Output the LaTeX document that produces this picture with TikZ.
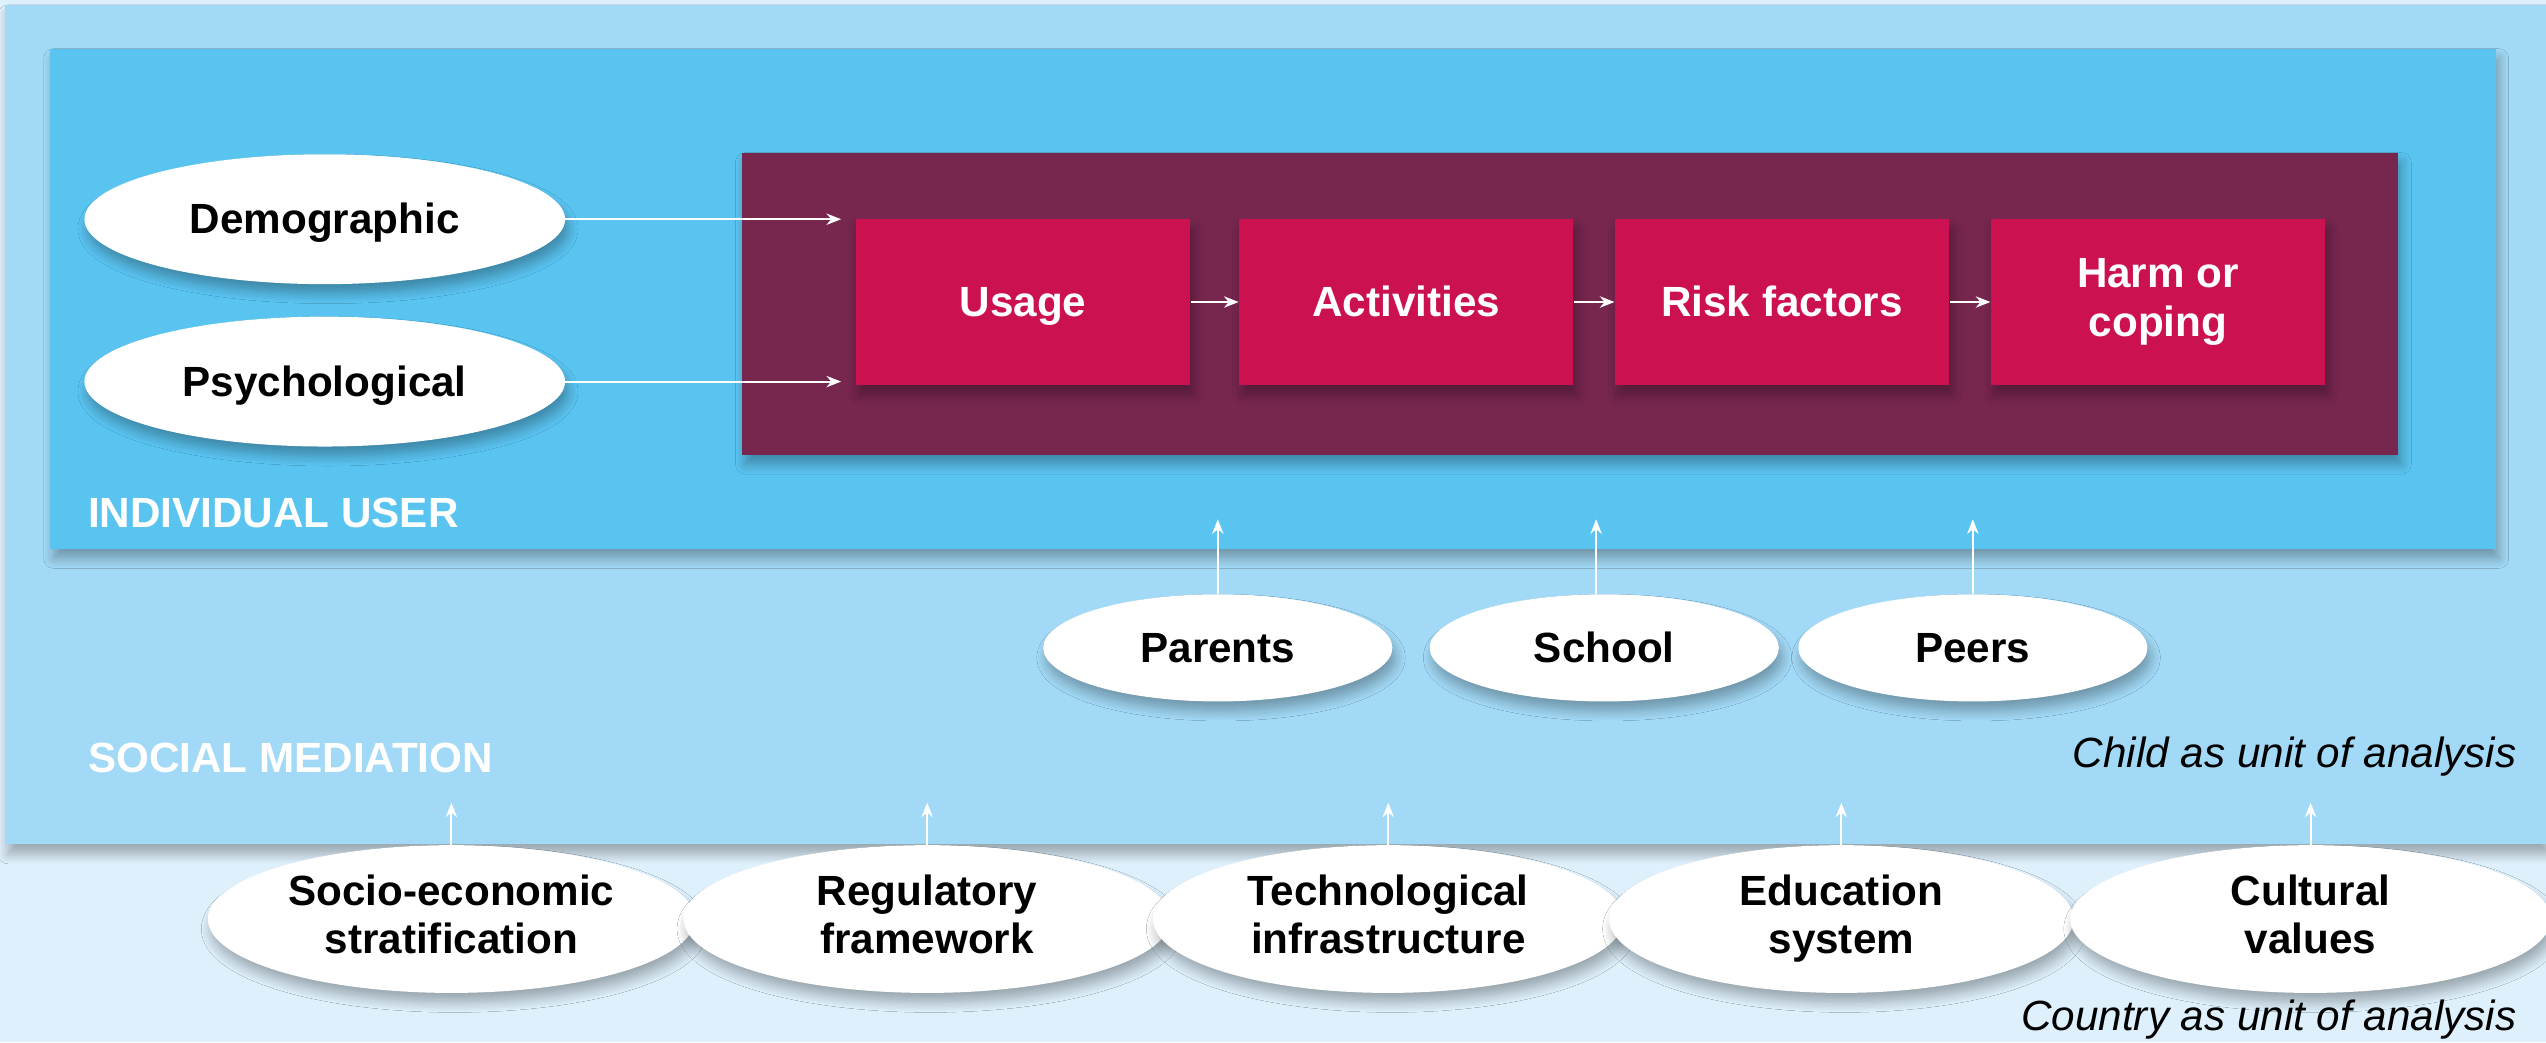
\documentclass[tikz,border=0pt]{standalone}
\usepackage{fontspec}
\setmainfont{Liberation Sans}
\usetikzlibrary{arrows.meta,shapes.geometric,shadows.blur}
\definecolor{bgl}{HTML}{DEF0FC}
\definecolor{bgm}{HTML}{A2D9F6}
\definecolor{bgi}{HTML}{5AC4F1}
\definecolor{purp}{HTML}{77264E}
\definecolor{redb}{HTML}{CC1150}
\newcommand{\mystrut}{\rule[-6pt]{0pt}{30pt}}
\tikzset{
  shd/.style={blur shadow={shadow xshift=2pt,shadow yshift=-6pt,shadow blur steps=8,shadow blur radius=6pt,shadow opacity=30}},
  ell/.style={ellipse,fill=white,inner sep=0pt,font=\bfseries\fontsize{26}{30}\selectfont,align=center,text=black,shd,execute at begin node=\mystrut},
  redbox/.style={rectangle,fill=redb,minimum width=206pt,minimum height=102pt,inner sep=0pt,font=\bfseries\fontsize{26}{30}\selectfont,text=white,align=center,shd,execute at begin node=\mystrut},
  arr/.style={draw=white,line width=1.2pt,-{Stealth[length=9pt,width=7pt]}},
  lbl/.style={font=\bfseries\fontsize{26}{30}\selectfont,text=white,anchor=west,inner sep=0pt},
  itl/.style={font=\itshape\fontsize{26}{30}\selectfont,text=black,anchor=east,inner sep=0pt}
}
\begin{document}
\begin{tikzpicture}[x=1pt,y=-1pt]
\useasboundingbox (0,0) rectangle (1568,642);
\fill[bgl] (0,0) rectangle (1568,642);
% social mediation
\fill[bgm,shd] (3,3) rectangle (1568,520);
% individual user
\fill[bgi,shd] (31,30) rectangle (1537,338);
% purple
\fill[purp,shd] (457,94) rectangle (1477,280);
% boxes
\node[redbox] (usage) at (630,186) {Usage};
\node[redbox] (act) at (866,186) {Activities};
\node[redbox] (risk) at (1097.5,186) {Risk factors};
\node[redbox] (harm) at (1329,186) {Harm or\\coping};
% left ellipses
\node[ell,minimum width=296pt,minimum height=80pt] (demo) at (200,135) {Demographic};
\node[ell,minimum width=296pt,minimum height=80pt] (psy) at (200,235) {Psychological};
% mediation ellipses
\node[ell,minimum width=215pt,minimum height=66pt] (par) at (750,399) {Parents};
\node[ell,minimum width=215pt,minimum height=66pt] (sch) at (988,399) {School};
\node[ell,minimum width=215pt,minimum height=66pt] (peer) at (1215,399) {Peers};
% country ellipses
\node[ell,minimum width=300pt,minimum height=91pt] (soc) at (278,566) {Socio-economic\\stratification};
\node[ell,minimum width=300pt,minimum height=91pt] (reg) at (571,566) {Regulatory\\framework};
\node[ell,minimum width=290pt,minimum height=91pt] (tech) at (855,566) {Technological\\infrastructure};
\node[ell,minimum width=286pt,minimum height=91pt] (edu) at (1134,566) {Education\\system};
\node[ell,minimum width=296pt,minimum height=91pt] (cult) at (1423,566) {Cultural\\values};
% labels
\node[lbl] (iu) at (54,316) {INDIVIDUAL USER};
\node[lbl] (sm) at (54,467) {SOCIAL MEDIATION};
\node[itl] (child) at (1550,466) {Child as unit of analysis};
\node[itl] (country) at (1550,628) {Country as unit of analysis};
% arrows
\coordinate (d1) at (518,135);
\coordinate (p1) at (518,235);
\draw[arr] (demo.east) -- (d1);
\draw[arr] (psy.east) -- (p1);
\draw[arr] (usage.east) -- (act.west);
\draw[arr] (act.east) -- (risk.west);
\draw[arr] (risk.east) -- (harm.west);
\draw[arr] (par.north) -- ++(0,-46);
\draw[arr] ([xshift=-5pt]sch.north) -- ++(0,-46);
\draw[arr] (peer.north) -- ++(0,-46);
\foreach \n in {soc,reg,tech,edu,cult}{
  \draw[arr] (\n.north) -- ++(0,-26);
}
\end{tikzpicture}
\end{document}
